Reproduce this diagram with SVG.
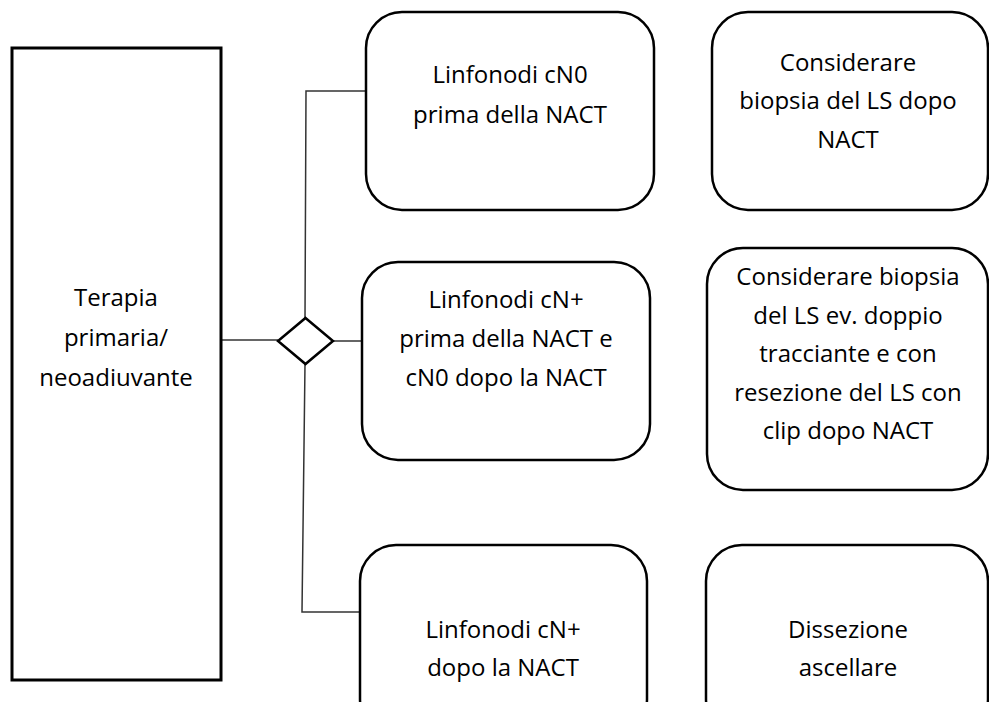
<svg xmlns="http://www.w3.org/2000/svg" width="989" height="702" viewBox="0 0 989 702">
  <style>
    .box { fill: #fff; stroke: #000; stroke-width: 2.5; }
    .main { fill: #fff; stroke: #000; stroke-width: 3; }
    .link { fill: none; stroke: #333; stroke-width: 1.5; }
    .diamond { fill: #fff; stroke: #000; stroke-width: 2.5; }
    text { font-family: "Open Sans", "Noto Sans", sans-serif; font-size: 24px; fill: #000; text-anchor: middle; }
  </style>

  <!-- connectors -->
  <g id="connectors">
    <line class="link" x1="221" y1="340" x2="278" y2="340"/>
    <line class="link" x1="333" y1="341" x2="362" y2="341"/>
    <polyline class="link" points="305,318 306,91 366,91"/>
    <polyline class="link" points="305,364 302,612 360,612"/>
  </g>

  <!-- decision point -->
  <g id="decision">
    <polygon class="diamond" points="305.5,318 333,341 305.5,364 278,341"/>
  </g>

  <g id="terapia">
    <rect class="main" x="12" y="48" width="209" height="632"/>
    <text x="116" y="306">Terapia</text>
    <text x="116" y="346">primaria/</text>
    <text x="116" y="386">neoadiuvante</text>
  </g>

  <g id="cn0-prima">
    <rect class="box" x="366" y="12" width="288" height="198" rx="36" ry="36"/>
    <text x="510" y="83">Linfonodi cN0</text>
    <text x="510" y="123">prima della NACT</text>
  </g>

  <g id="cn-plus-prima">
    <rect class="box" x="362" y="262" width="288" height="198" rx="36" ry="36"/>
    <text x="506" y="308">Linfonodi cN+</text>
    <text x="506" y="347">prima della NACT e</text>
    <text x="506" y="386">cN0 dopo la NACT</text>
  </g>

  <g id="cn-plus-dopo">
    <rect class="box" x="360" y="545" width="287" height="190" rx="36" ry="36"/>
    <text x="503" y="638">Linfonodi cN+</text>
    <text x="503" y="676">dopo la NACT</text>
  </g>

  <g id="biopsia-ls">
    <rect class="box" x="712" y="12" width="276" height="198" rx="36" ry="36"/>
    <text x="848" y="71">Considerare</text>
    <text x="848" y="109">biopsia del LS dopo</text>
    <text x="848" y="148">NACT</text>
  </g>

  <g id="biopsia-clip">
    <rect class="box" x="707" y="248" width="281" height="242" rx="36" ry="36"/>
    <text x="848" y="285">Considerare biopsia</text>
    <text x="848" y="324">del LS ev. doppio</text>
    <text x="848" y="362">tracciante e con</text>
    <text x="848" y="401">resezione del LS con</text>
    <text x="848" y="439">clip dopo NACT</text>
  </g>

  <g id="dissezione">
    <rect class="box" x="706" y="545" width="282" height="190" rx="36" ry="36"/>
    <text x="848" y="638">Dissezione</text>
    <text x="848" y="676">ascellare</text>
  </g>
</svg>
